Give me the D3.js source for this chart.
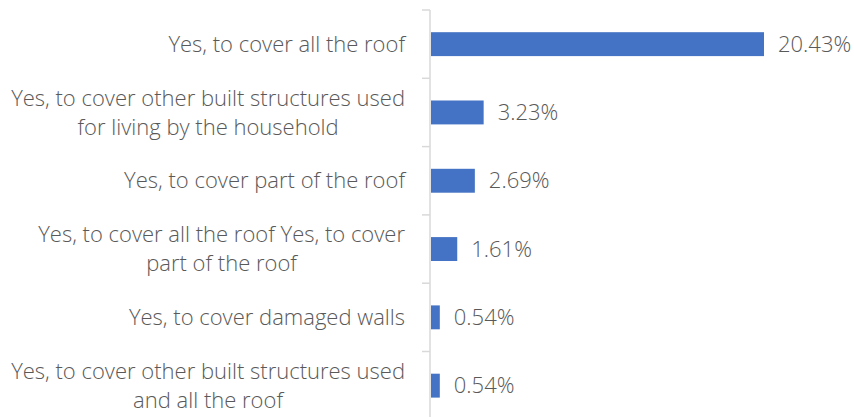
<!DOCTYPE html>
<html>
<head>
<meta charset="utf-8">
<script src="https://cdn.jsdelivr.net/npm/d3@7"></script>
<style>
  body { margin: 0; background: white; }
  svg { display: block; font-family: "Open Sans", "Noto Sans", sans-serif; }
</style>
</head>
<body>
<div id="chart"></div>
<script>
// Data
const categories = [
  ['Yes, to cover all the roof'],
  ['Yes, to cover other built structures used', 'for living by the household'],
  ['Yes, to cover part of the roof'],
  ['Yes, to cover all the roof Yes, to cover', 'part of the roof'],
  ['Yes, to cover damaged walls'],
  ['Yes, to cover other built structures used', 'and all the roof']
];
const values = [20.43, 3.23, 2.69, 1.61, 0.54, 0.54];
const valueLabels = ['20.43%', '3.23%', '2.69%', '1.61%', '0.54%', '0.54%'];

let width = 854,
    height = 417;

let margin = { top: 10, left: 430, labelRight: 405 };

let svg = d3.select('#chart')
            .append('svg')
            .attr('width', width)
            .attr('height', height)
            .style('background', 'white');

let keys = categories.map((d, i) => i);

let yScale = d3.scaleBand()
               .domain(keys)
               .range([margin.top, margin.top + 6 * 68.3])
               .paddingInner(0.65)
               .paddingOuter(0.325);

let xScale = d3.scaleLinear()
               .domain([0, 20.43])
               .range([margin.left, 763]);

// Axis line with ticks between categories
let step = yScale.step();
let bounds = d3.range(0, 7).map(i => margin.top + i * step);

svg.append('line')
   .attr('x1', margin.left).attr('x2', margin.left)
   .attr('y1', margin.top).attr('y2', height)
   .attr('stroke', '#d9d9d9').attr('stroke-width', 1.5);

svg.selectAll('.tick-mark')
   .data(bounds)
   .enter().append('line')
   .attr('class', 'tick-mark')
   .attr('x1', margin.left - 8).attr('x2', margin.left)
   .attr('y1', d => d).attr('y2', d => d)
   .attr('stroke', '#d9d9d9').attr('stroke-width', 1.5);

// Bars
svg.selectAll('.bar')
   .data(values)
   .enter().append('rect')
   .attr('class', 'bar')
   .attr('x', xScale(0) + 1)
   .attr('y', (d, i) => yScale(i))
   .attr('width', d => xScale(d) - xScale(0))
   .attr('height', yScale.bandwidth())
   .attr('fill', '#4472c4');

// Value labels
svg.selectAll('.value')
   .data(values)
   .enter().append('text')
   .attr('class', 'value')
   .attr('x', d => xScale(d) + 15)
   .attr('y', (d, i) => yScale(i) + yScale.bandwidth() / 2)
   .attr('dy', '0.35em')
   .attr('fill', '#595959')
   .style('font-size', '22px')
   .style('font-weight', 300)
   .text((d, i) => valueLabels[i]);

// Category labels (multi-line ones centred inside a right-aligned block)
categories.forEach((lines, i) => {
  let cy = yScale(i) + yScale.bandwidth() / 2;
  let g = svg.append('g');
  let texts = lines.map((line, j) => g.append('text')
      .attr('y', cy + (j - (lines.length - 1) / 2) * 29)
      .attr('dy', '0.35em')
      .attr('fill', '#595959')
      .style('font-size', '22px')
      .style('font-weight', 300)
      .text(line));
  let widest = d3.max(texts, t => t.node().getComputedTextLength());
  let center = margin.labelRight - widest / 2;
  texts.forEach(t => t.attr('x', center).style('text-anchor', 'middle'));
});
</script>
</body>
</html>
